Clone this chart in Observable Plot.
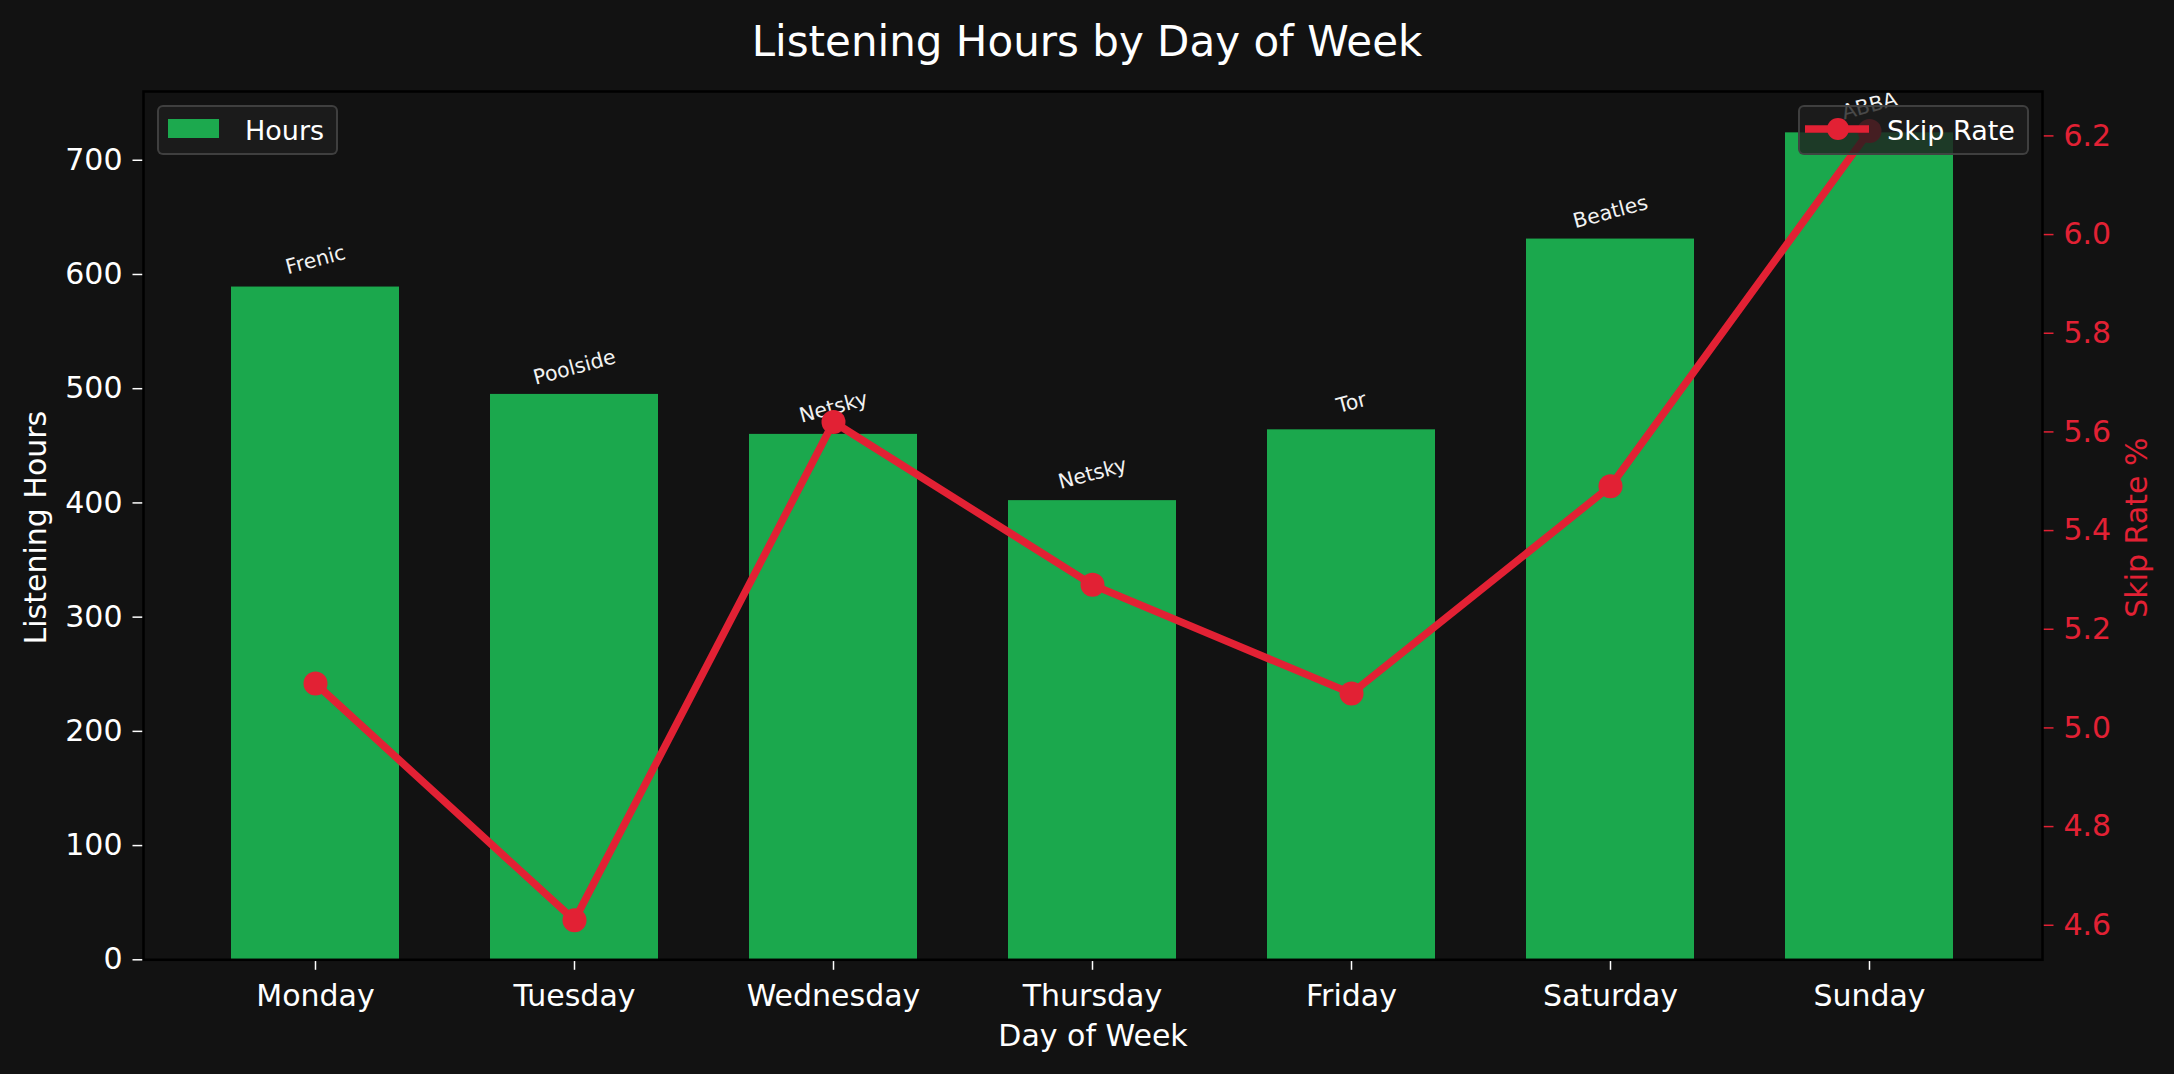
<!DOCTYPE html>
<html>
<head>
<meta charset="utf-8">
<script src="https://cdn.jsdelivr.net/npm/d3@7"></script>
<script src="https://cdn.jsdelivr.net/npm/@observablehq/plot@0.6"></script>
<style>
html, body { margin: 0; padding: 0; background: #121212; }
#wrap { position: relative; width: 2174px; height: 1074px; font-family: "DejaVu Sans", sans-serif; overflow: hidden; }
#title { height: 80px; line-height: 83px; text-align: center; color: #ffffff; font-size: 42px; }
.legend { position: absolute; box-sizing: border-box; background: rgba(30,30,30,0.8);
  border: 2px solid rgba(70,70,70,0.85); border-radius: 6px; color: #ffffff; font-size: 27px; }
.legend .lbl { position: absolute; top: 0; bottom: 0; display: flex; align-items: center; white-space: nowrap; }
.legend svg { position: absolute; left: 0; top: 0; }
</style>
</head>
<body>
<div id="wrap">
  <div id="title">Listening Hours by Day of Week</div>
  <div id="chart"></div>
  <div class="legend" style="left:157px; top:105px; width:181px; height:50px;">
    <svg width="60" height="46"><rect x="9" y="12" width="55" height="19" fill="#1DB954" fill-opacity="0.9"></rect></svg>
    <div class="lbl" style="left:86px;">Hours</div>
  </div>
  <div class="legend" style="left:1798px; top:105px; width:231px; height:50px;">
    <svg width="80" height="46"><line x1="5" y1="22" x2="69" y2="22" stroke="#E22134" stroke-width="7.5"></line><circle cx="38" cy="22" r="11" fill="#E22134"></circle></svg>
    <div class="lbl" style="left:87px;">Skip Rate</div>
  </div>
</div>
<script>
const days = ["Monday", "Tuesday", "Wednesday", "Thursday", "Friday", "Saturday", "Sunday"];
const hours = [589, 495, 460, 402, 464, 631, 724];
const skipRate = [5.09, 4.61, 5.62, 5.29, 5.07, 5.49, 6.21];
const artists = ["Frenic", "Poolside", "Netsky", "Netsky", "Tor", "Beatles", "ABBA"];
const hourTicks = [0, 100, 200, 300, 400, 500, 600, 700];
const rateTicks = [4.6, 4.8, 5.0, 5.2, 5.4, 5.6, 5.8, 6.0, 6.2];

const GREEN = "#1DB954";
const RED = "#E22134";

const hMax = d3.max(hours) * 1.05;
const rMin = d3.min(skipRate), rMax = d3.max(skipRate);
const rPad = (rMax - rMin) * 0.05;
const rLo = rMin - rPad, rHi = rMax + rPad;
const toH = r => (r - rLo) / (rHi - rLo) * hMax;
const fromH = h => rLo + h / hMax * (rHi - rLo);

const rows = days.map((d, i) => ({
  day: d, hours: hours[i], rate: skipRate[i], artist: artists[i], rateH: toH(skipRate[i])
}));

const chart = Plot.plot({
  width: 2174,
  height: 994,
  marginTop: 11,
  marginBottom: 114.7,
  marginLeft: 143,
  marginRight: 132,
  style: { background: "#121212", color: "#ffffff", fontFamily: "DejaVu Sans, sans-serif", fontSize: "30px" },
  x: { type: "band", domain: days, paddingInner: 0.35, paddingOuter: 0.332, align: 0.5, label: null },
  y: { domain: [0, hMax], label: null },
  marks: [
    Plot.barY(rows, { x: "day", y: "hours", fill: GREEN, fillOpacity: 0.9 }),
    Plot.text(rows, { x: "day", y: "hours", text: "artist", rotate: -15, dy: -27, lineAnchor: "middle",
      fontSize: 20.5, fill: "#f2f2f2" }),
    Plot.line(rows, { x: "day", y: "rateH", stroke: RED, strokeWidth: 7.5 }),
    Plot.dot(rows, { x: "day", y: "rateH", r: 12, fill: RED, stroke: "none" }),
    Plot.axisY({ anchor: "left", ticks: hourTicks, tickSize: 10.5, tickPadding: 10.5, label: null,
      fontSize: 30, color: "#ffffff", strokeWidth: 1.5 }),
    Plot.axisY({ anchor: "right", ticks: rateTicks.map(toH), tickFormat: h => fromH(h).toFixed(1),
      tickSize: 10.5, tickPadding: 10.5, label: null, fontSize: 30, color: RED, strokeWidth: 1.5 }),
    Plot.axisX({ tickSize: 10.5, tickPadding: 14, label: null, fontSize: 30, color: "#ffffff", strokeWidth: 1.5 }),
    Plot.text(["Day of Week"], { frameAnchor: "bottom", dy: 76.4, textAnchor: "middle", lineAnchor: "middle", fontSize: 30, fill: "#ffffff" }),
    Plot.text(["Listening Hours"], { frameAnchor: "left", dx: -107, dy: 2, rotate: -90, textAnchor: "middle", lineAnchor: "middle", fontSize: 30, fill: "#ffffff" }),
    Plot.text(["Skip Rate %"], { frameAnchor: "right", dx: 94.6, dy: 2, rotate: -90, textAnchor: "middle", lineAnchor: "middle", fontSize: 30, fill: RED }),
    Plot.frame({ stroke: "#000000", strokeWidth: 2.5 })
  ]
});
document.getElementById("chart").appendChild(chart);
</script>
</body>
</html>
